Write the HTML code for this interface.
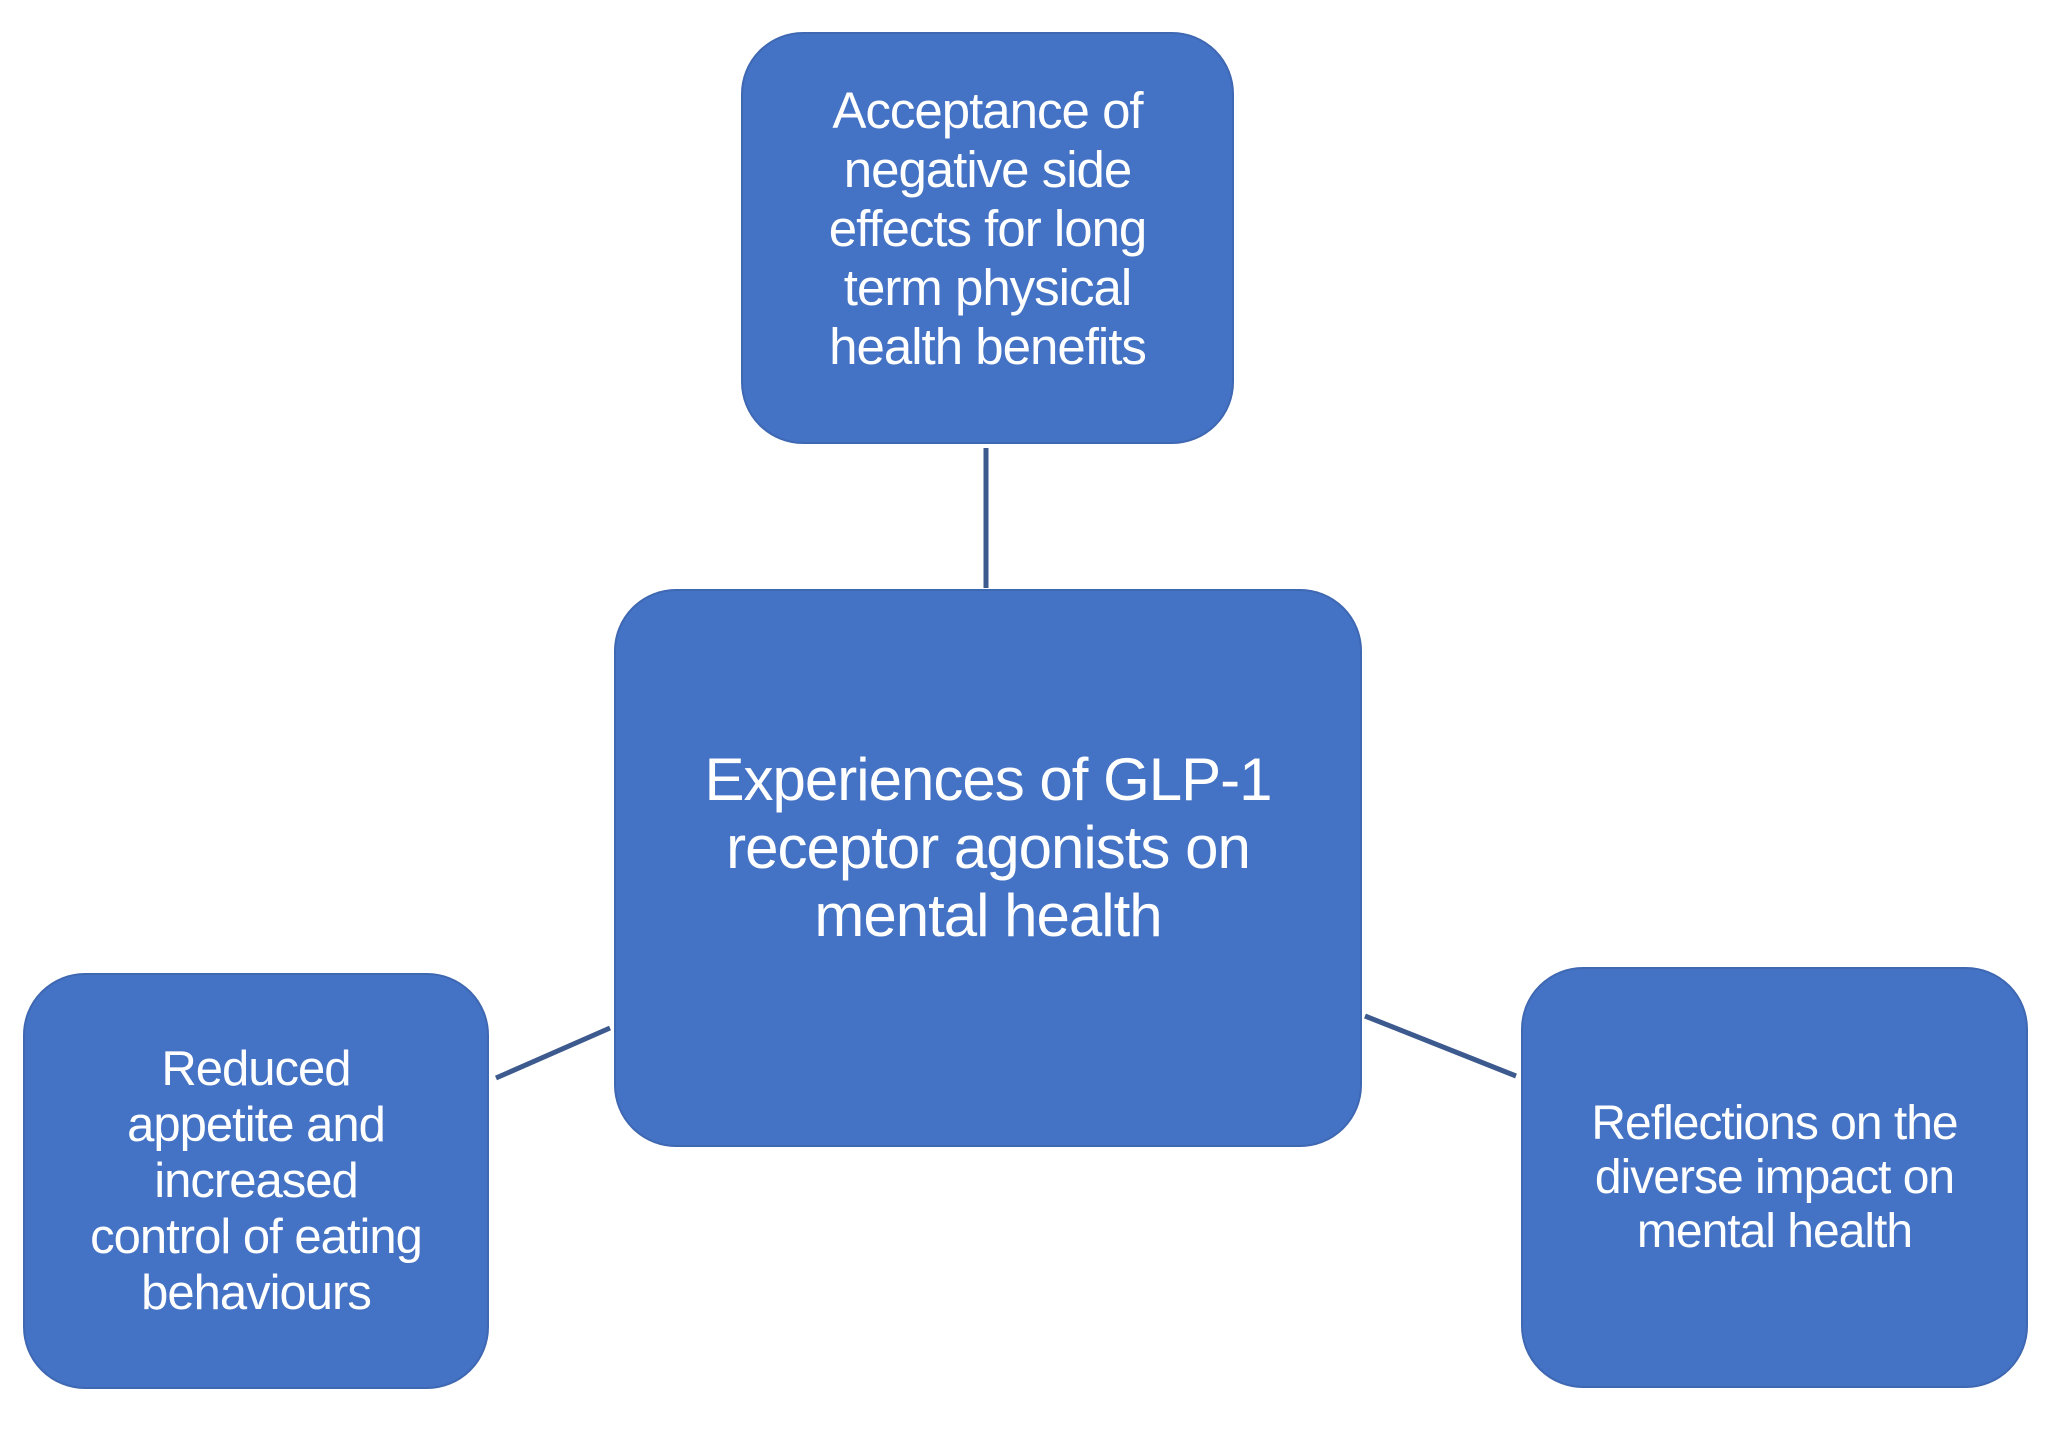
<!DOCTYPE html>
<html><head><style>
body{margin:0;width:2056px;height:1431px;background:#fff;position:relative;overflow:hidden;font-family:"Liberation Sans",Arial,sans-serif}
.b{position:absolute;background:#4472C4;border:2px solid #3f68b3;box-sizing:border-box;border-radius:62px;color:#fff;display:flex;align-items:center;justify-content:center;text-align:center;letter-spacing:-1px}
</style></head><body>
<svg width="2056" height="1431" style="position:absolute;left:0;top:0">
<g stroke="#3d5a8f" stroke-width="5">
<line x1="986" y1="448" x2="986" y2="588"/>
<line x1="496" y1="1078" x2="610" y2="1028"/>
<line x1="1365" y1="1016" x2="1516" y2="1076"/>
</g></svg>
<div class="b" style="left:741px;top:32px;width:493px;height:412px;font-size:51px;line-height:59px;padding-bottom:20px">Acceptance of<br>negative side<br>effects for long<br>term physical<br>health benefits</div>
<div class="b" style="left:614px;top:589px;width:748px;height:558px;font-size:60px;line-height:68px;padding-bottom:40px">Experiences of GLP-1<br>receptor agonists on<br>mental health</div>
<div class="b" style="left:23px;top:973px;width:466px;height:416px;font-size:49px;line-height:56px">Reduced<br>appetite and<br>increased<br>control of eating<br>behaviours</div>
<div class="b" style="left:1521px;top:967px;width:507px;height:421px;font-size:48px;line-height:54px">Reflections on the<br>diverse impact on<br>mental health</div>
</body></html>
